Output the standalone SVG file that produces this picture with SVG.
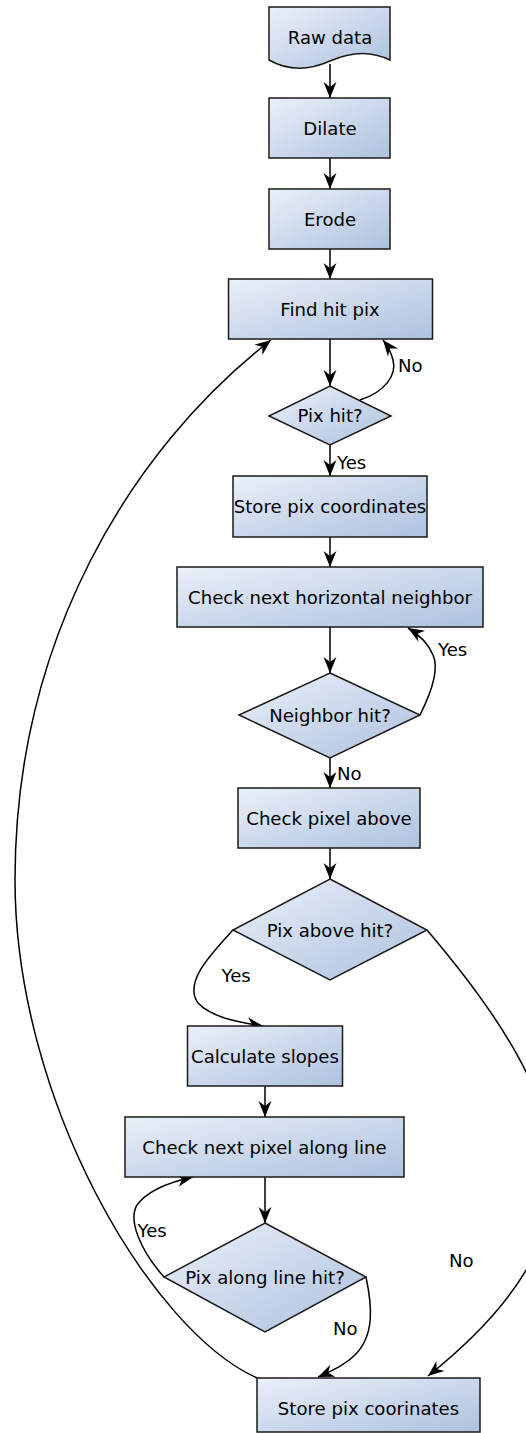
<svg xmlns="http://www.w3.org/2000/svg" width="526" height="1433" viewBox="0 0 526 1433">
<style>
.n{stroke:#1a1a1a;stroke-width:1.5;fill:url(#g)}
.t{font-family:"DejaVu Sans",sans-serif;font-size:18.1px;fill:#000;text-anchor:middle}
.l{font-family:"DejaVu Sans",sans-serif;font-size:18.1px;fill:#000}
.c{fill:none;stroke:#000;stroke-width:1.5;marker-end:url(#ah)}
</style>
<defs>
<linearGradient id="g" x1="0" y1="0" x2="1" y2="1">
<stop offset="0" stop-color="#ebf0f9"/>
<stop offset="1" stop-color="#adc1de"/>
</linearGradient>
<marker id="ah" viewBox="-18 -8 20 16" refX="0" refY="0" markerWidth="20" markerHeight="16" markerUnits="userSpaceOnUse" orient="auto">
<path d="M0,0 L-16,-6.5 L-11,0 L-16,6.5 Z" fill="#000"/>
</marker>
</defs>
<g id="connectors">
<path class="c" d="M330,64 V98"/>
<path class="c" d="M330,158 V189"/>
<path class="c" d="M330,249 V279"/>
<path class="c" d="M330,339 V386"/>
<path class="c" d="M330,445 V476"/>
<path class="c" d="M330,537 V567"/>
<path class="c" d="M330,627 V673"/>
<path class="c" d="M330,758 V788"/>
<path class="c" d="M330,848 V879"/>
<path class="c" d="M265,1086 V1117"/>
<path class="c" d="M265,1177 V1223"/>
<path class="c" d="M360,400 C385,392 397,375 393,360 C391,352 387,345 383,340"/>
<path class="c" d="M420,715 C430,695 440,670 433,655 C428,643 418,634 408,628"/>
<path class="c" d="M233,930 C212,953 183,982 198,1003 C212,1018 242,1023 263,1026"/>
<path class="c" d="M164,1277 C140,1250 128,1220 137,1205 C148,1190 170,1182 193,1177"/>
<path class="c" d="M366,1277 C372,1305 375,1335 355,1355 C345,1365 330,1372 318,1377"/>
<path class="c" d="M427,930 C580,1110 610,1230 428,1376"/>
<path class="c" d="M257,1378 C150,1330 15,1100 15,880 C15,640 130,450 271,340"/>
<text class="l" x="398" y="371.5">No</text>
<text class="l" x="337" y="469">Yes</text>
<text class="l" x="438" y="656">Yes</text>
<text class="l" x="337" y="780">No</text>
<text class="l" x="221.5" y="981.5">Yes</text>
<text class="l" x="137.5" y="1236.5">Yes</text>
<text class="l" x="333" y="1335">No</text>
<text class="l" x="449" y="1267">No</text>
</g>
<g id="raw-data">
<path class="n" d="M269,7 H390 V60 C370,50 350,52 330,61 C310,70 290,72 269,60 Z"/>
<text class="t" x="330" y="43.5">Raw data</text>
</g>
<g id="dilate">
<rect class="n" x="269" y="98" width="121" height="60"/>
<text class="t" x="330" y="134.5">Dilate</text>
</g>
<g id="erode">
<rect class="n" x="269" y="189" width="121" height="60"/>
<text class="t" x="330" y="225.5">Erode</text>
</g>
<g id="find-hit-pix">
<rect class="n" x="228.5" y="279" width="204" height="60"/>
<text class="t" x="330" y="316">Find hit pix</text>
</g>
<g id="pix-hit">
<path class="n" d="M330,386 L391,416 L330,445 L269,416 Z"/>
<text class="t" x="330" y="422">Pix hit?</text>
</g>
<g id="store-pix-coordinates">
<rect class="n" x="233" y="476" width="194" height="61"/>
<text class="t" x="330" y="513">Store pix coordinates</text>
</g>
<g id="check-next-horizontal-neighbor">
<rect class="n" x="177" y="567" width="306" height="60"/>
<text class="t" x="330" y="603.5">Check next horizontal neighbor</text>
</g>
<g id="neighbor-hit">
<path class="n" d="M330,673 L420,715 L330,758 L239,715 Z"/>
<text class="t" x="330" y="721.5">Neighbor hit?</text>
</g>
<g id="check-pixel-above">
<rect class="n" x="238" y="788" width="182" height="60"/>
<text class="t" x="329" y="824.5">Check pixel above</text>
</g>
<g id="pix-above-hit">
<path class="n" d="M330,879 L427,930 L330,980 L233,930 Z"/>
<text class="t" x="330" y="936.5">Pix above hit?</text>
</g>
<g id="calculate-slopes">
<rect class="n" x="187.5" y="1026" width="155" height="60"/>
<text class="t" x="265" y="1062.5">Calculate slopes</text>
</g>
<g id="check-next-pixel-along-line">
<rect class="n" x="125" y="1117" width="279" height="60"/>
<text class="t" x="264.5" y="1153.5">Check next pixel along line</text>
</g>
<g id="pix-along-line-hit">
<path class="n" d="M265,1223 L366,1277 L265,1332 L164,1277 Z"/>
<text class="t" x="265" y="1283.5">Pix along line hit?</text>
</g>
<g id="store-pix-coorinates">
<rect class="n" x="257" y="1378" width="223" height="54"/>
<text class="t" x="368.5" y="1415">Store pix coorinates</text>
</g>
</svg>
